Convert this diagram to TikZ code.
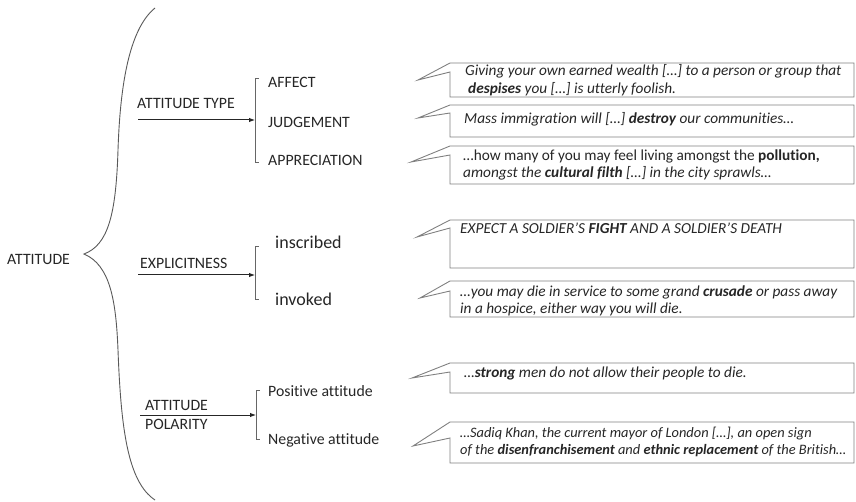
\documentclass[tikz,border=0pt]{standalone}
\usepackage{fontspec}
\setmainfont{Carlito}[Ligatures=NoCommon]
\usetikzlibrary{arrows.meta}
\begin{document}
\begin{tikzpicture}[x=1pt, y=-1pt,
    lbl/.style={anchor=west, inner sep=0pt, text=black!85, font=\fontsize{15.8}{19}\selectfont},
    biglbl/.style={lbl, font=\fontsize{18}{21}\selectfont},
    quote/.style={anchor=west, inner sep=0pt, align=left, text=black!85, font=\fontsize{15.3}{17.5}\selectfont\itshape},
    box/.style={draw=black!50, line width=0.9pt},
    arr/.style={-{Latex[length=6pt,width=4.5pt]}, line width=1pt, black!85},
    brk/.style={draw=black!60, line width=0.8pt}]
            \useasboundingbox (0,0) rectangle (856,502);
            %% 定义callout命令: 上, 下, 尖端x, 尖端y, 接点y
            \newcommand{\callout}[5]{
            \draw[box]
                (450, #1)
                --(#3, #4)
                --(450, #5)
                --(450, #2)
                --(854, #2)
                --(854, #1)
                --cycle;
            }
            %% 定义bracket命令: x, 上, 下
            \newcommand{\bracket}[3]{
                \draw[brk] (#1+4, #2)--(#1, #2)--(#1, #3)--(#1+4, #3);
            }

            %% 左边的大括号
            \node[lbl] (attitude) at (7, 259) {ATTITUDE};
            \coordinate (cusp) at (84, 254);
            \draw[black!65, line width=0.9pt] (155, 8)
                .. controls (128, 30) and (120, 90) .. (118, 150)
                .. controls (116, 215) and (108, 245) .. (cusp)
                .. controls (110, 265) and (116, 300) .. (118, 350)
                .. controls (121, 430) and (128, 482) .. (155, 500);

            %% ATTITUDE TYPE
            \node[lbl] (typelbl) at (137, 103) {ATTITUDE TYPE};
            \coordinate (typein) at (138, 120);
            \coordinate (typebr) at (255, 120);
            \draw[arr] (typein)--(typebr);
            \bracket{255}{78}{162};
            \node[lbl] (affect) at (268, 82) {AFFECT};
            \node[lbl] (judgement) at (268, 122) {JUDGEMENT};
            \node[lbl] (appreciation) at (268, 160) {APPRECIATION};

            %% EXPLICITNESS
            \node[lbl] (explbl) at (140, 263) {EXPLICITNESS};
            \coordinate (expin) at (138, 275);
            \coordinate (expbr) at (255, 275);
            \draw[arr] (expin)--(expbr);
            \bracket{255}{246}{299};
            \node[biglbl] (inscribed) at (275, 242) {inscribed};
            \node[biglbl] (invoked) at (275, 299) {invoked};

            %% ATTITUDE POLARITY
            \node[lbl] (pollbl) at (145, 405) {ATTITUDE};
            \node[lbl] (pollbltwo) at (145, 424) {POLARITY};
            \coordinate (polin) at (140, 415);
            \coordinate (polbr) at (256, 415);
            \draw[arr] (polin)--(polbr);
            \bracket{256}{390}{439};
            \node[lbl] (positive) at (268, 391) {Positive attitude};
            \node[lbl] (negative) at (268, 440) {Negative attitude};

            %% 例句框
            \callout{63}{97}{418}{80}{72};
            \callout{105}{137}{418}{118}{113};
            \callout{146}{184}{411}{162}{155};
            \callout{220}{268}{417}{237}{228};
            \callout{281}{317}{420}{298}{291};
            \callout{363}{393}{412}{378}{372};
            \callout{422}{463}{413}{446}{438};

            %% 例句文字
            \node[quote] (qaffect) at (465, 80) {Giving your own earned wealth […] to a person or group that\\
                \hspace{3pt}\textbf{despises} you […] is utterly foolish.};
            \node[quote] (qjudge) at (464, 119) {Mass immigration will […] \textbf{destroy} our communities…};
            \node[quote] (qapprec) at (463, 165) {{\upshape …how many of you may feel living amongst the \textbf{pollution,}}\\
                amongst the \textbf{cultural filth} […] in the city sprawls…};
            \node[quote] (qinscr) at (460, 228) {EXPECT A SOLDIER’S \textbf{FIGHT} AND A SOLDIER’S DEATH};
            \node[quote] (qinvok) at (460, 301) {…you may die in service to some grand \textbf{crusade} or pass away\\
                in a hospice, either way you will die.};
            \node[quote] (qpos) at (464, 373) {…\textbf{strong} men do not allow their people to die.};
            \node[quote, font=\fontsize{14.4}{17.5}\selectfont\itshape] (qneg) at (460, 442) {…Sadiq Khan, the current mayor of London […], an open sign\\
                of the \textbf{disenfranchisement} and \textbf{ethnic replacement} of the British…};
        \end{tikzpicture}
\end{document}
